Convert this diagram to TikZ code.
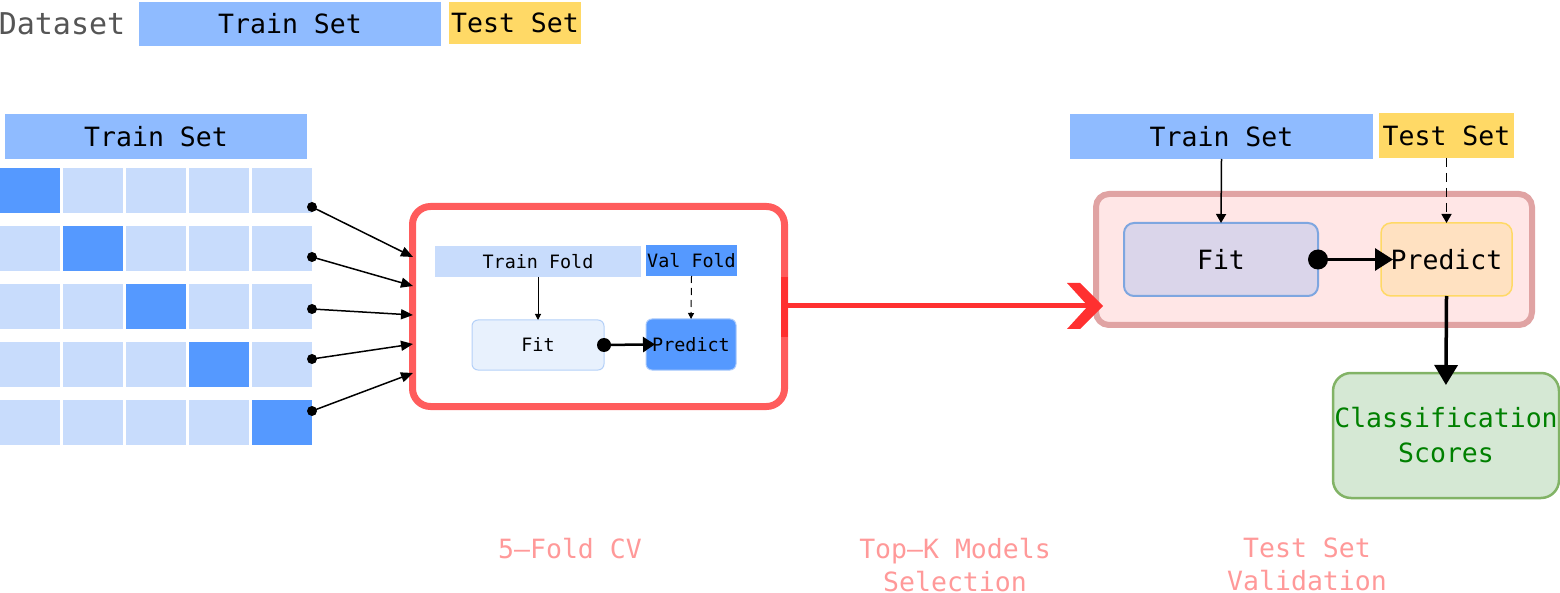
\documentclass[tikz,border=0pt]{standalone}
\usepackage{fontspec}
\setmainfont{DejaVu Sans Mono}
\setmonofont{DejaVu Sans Mono}
\usetikzlibrary{arrows.meta,calc}
\definecolor{trainset}{HTML}{8FBBFF}
\definecolor{testset}{HTML}{FFD966}
\definecolor{foldlight}{HTML}{C8DCFC}
\definecolor{folddark}{HTML}{5599FF}
\definecolor{cvred}{HTML}{FF5C5C}
\definecolor{arrred}{HTML}{FF3030}
\definecolor{valpink}{HTML}{FFE6E6}
\definecolor{valstroke}{HTML}{E0A3A3}
\definecolor{fitfill}{HTML}{DAD5EA}
\definecolor{fitstroke}{HTML}{7EA6E0}
\definecolor{predfill}{HTML}{FFE1C1}
\definecolor{greenfill}{HTML}{D5E8D4}
\definecolor{greenstroke}{HTML}{82B366}
\definecolor{greentext}{HTML}{008000}
\definecolor{caption}{HTML}{FF9999}
\definecolor{datagrey}{HTML}{555555}
\definecolor{fitlfill}{HTML}{E8F1FD}
\definecolor{fitlstroke}{HTML}{B4D0F8}
\definecolor{predlstroke}{HTML}{A9C9FB}
\tikzset{
  big/.style={font=\fontsize{26.5}{32}\selectfont},
  small/.style={font=\fontsize{18.4}{22}\selectfont},
  plainbox/.style={rectangle, inner sep=0pt, outer sep=0pt, anchor=center},
  cellbox/.style={plainbox, minimum width=60pt, minimum height=45pt},
  dotstyle/.style={circle, fill=black, inner sep=0pt, minimum size=10pt},
  foldarrow/.style={line width=1.5pt, -{Triangle[length=12pt,width=10pt]}},
  thinarrow/.style={line width=1pt, -{Triangle[length=6pt,width=6pt]}},
  medarrow/.style={line width=1.5pt, -{Triangle[length=9pt,width=10pt]}},
  captext/.style={font=\fontsize{26.5}{33}\selectfont, text=caption, align=center, inner sep=0pt}
}
\begin{document}
\begin{tikzpicture}[x=1pt,y=-1pt]
\useasboundingbox (0,0) rectangle (1560,593);
% top row
\node[text=datagrey, anchor=center, font=\fontsize{30}{36}\selectfont] (dataset) at (62,24) {Dataset};
\node[plainbox, big, fill=trainset, minimum width=302pt, minimum height=44pt] (toptrain) at (290,24) {Train Set};
\node[plainbox, big, fill=testset, minimum width=132pt, minimum height=42pt] (toptest) at (515,23) {Test Set};
% left train set and folds
\node[plainbox, big, fill=trainset, minimum width=302pt, minimum height=45pt] (ltrain) at (156,136.5) {Train Set};
\foreach \i in {0,...,4}{
  \foreach \j in {0,...,4}{
    \ifnum\i=\j
      \node[cellbox, fill=folddark] (c\i\j) at ({30+63*\j},{190.5+58*\i}) {};
    \else
      \node[cellbox, fill=foldlight] (c\i\j) at ({30+63*\j},{190.5+58*\i}) {};
    \fi
  }
}
% CV box
\node[plainbox, draw=cvred, line width=7pt, rounded corners=18pt, minimum width=372pt, minimum height=200pt] (cv) at (598.5,306.5) {};
\node[plainbox, small, fill=foldlight, minimum width=206pt, minimum height=31pt] (trainfold) at (538,261.5) {Train Fold};
\node[plainbox, small, fill=folddark, minimum width=91pt, minimum height=31pt] (valfold) at (691.5,260.5) {Val Fold};
\node[plainbox, small, fill=fitlfill, draw=fitlstroke, line width=1pt, rounded corners=6pt, minimum width=132pt, minimum height=50pt] (fitl) at (538,345) {Fit};
\node[plainbox, small, fill=folddark, draw=predlstroke, line width=1pt, rounded corners=6pt, minimum width=90pt, minimum height=51pt] (predl) at (691,344.5) {Predict};
% dots and fold arrows
\foreach \k/\dy/\ty in {0/207/257,1/257/286,2/309/315,3/359/344,4/411/373}{
  \node[dotstyle] (d\k) at (312,\dy) {};
  \coordinate (t\k) at (413,\ty);
  \draw[foldarrow] (d\k.center) -- (t\k);
}
% inner arrows
\draw[thinarrow] (trainfold.south) -- (fitl.north);
\draw[thinarrow, dash pattern=on 7pt off 5pt] (valfold.south) -- (predl.north);
\fill (fitl.east) circle (7pt);
\draw[line width=2.5pt, -{Triangle[length=12pt,width=15pt]}, shorten >=-9pt] (fitl.east) -- (predl.west);
% right group
\node[plainbox, draw=valstroke, fill=valpink, line width=6pt, rounded corners=13pt, minimum width=436pt, minimum height=131pt] (valbox) at (1314,259.5) {};
\node[plainbox, big, fill=trainset, minimum width=303pt, minimum height=45pt] (rtrain) at (1221.5,136.5) {Train Set};
\node[plainbox, big, fill=testset, minimum width=135pt, minimum height=45pt] (rtest) at (1446.5,135.5) {Test Set};
\node[plainbox, big, fill=fitfill, draw=fitstroke, line width=2pt, rounded corners=10pt, minimum width=194pt, minimum height=73pt] (fitr) at (1221,259.5) {Fit};
\node[plainbox, big, fill=predfill, draw=testset, line width=1.5pt, rounded corners=10pt, minimum width=131pt, minimum height=73pt] (predr) at (1446.5,259.5) {Predict};
\node[plainbox, big, text=greentext, fill=greenfill, draw=greenstroke, line width=2.5pt, rounded corners=18pt, minimum width=226pt, minimum height=125pt, align=center] (scores) at (1446,435.5) {Classification\\[3pt]Scores};
% red arrow between groups
\coordinate (redstart) at (784,306);
\coordinate (redtip) at (1103,306);
\draw[arrred, line width=7pt] (784,277) -- (784,337);
\draw[arrred, line width=5pt] (redstart) -- ($(redtip)+(-12,0)$);
\fill[arrred] (redtip) -- (1080,283) -- (1067,283) -- (1088,306) -- (1067,329) -- (1080,329) -- cycle;
% right arrows
\draw[medarrow] (rtrain.south) -- (fitr.north);
\draw[medarrow, dash pattern=on 9pt off 6pt] (rtest.south) -- (predr.north);
\fill (fitr.east) circle (10pt);
\draw[line width=3pt, -{Triangle[length=18pt,width=22pt]}, shorten >=-12pt] (fitr.east) -- (predr.west);
\draw[line width=3.5pt, -{Triangle[length=20pt,width=23pt]}, shorten >=-12pt] (predr.south) -- (scores.north);
% captions
\node[captext] (cap1) at (570,549) {5–Fold CV};
\node[captext] (cap2) at (955,565) {Top–K Models\\Selection};
\node[captext] (cap3) at (1307,564.5) {Test Set\\Validation};
\end{tikzpicture}
\end{document}
